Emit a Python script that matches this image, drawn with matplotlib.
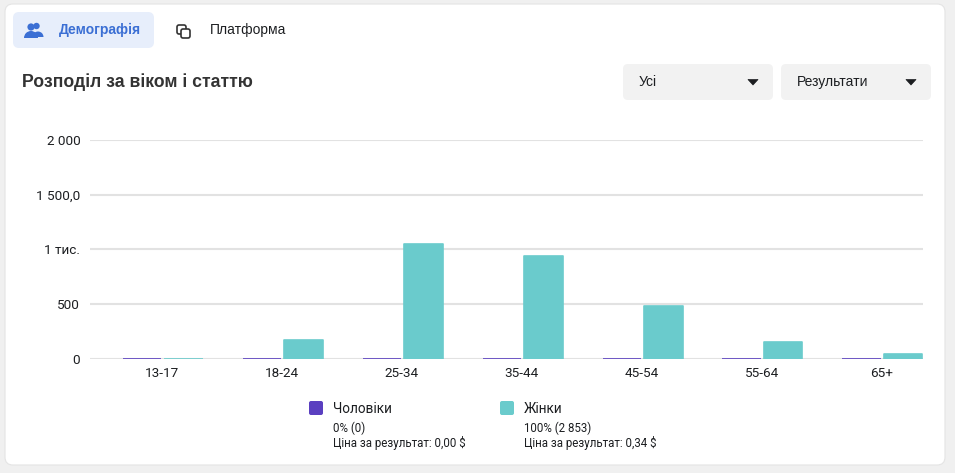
import numpy as np
import matplotlib.pyplot as plt
from matplotlib.patches import FancyBboxPatch, Circle, Wedge, Polygon

plt.rcParams['font.family'] = ['Roboto', 'DejaVu Sans']

# data
ages = ['13-17', '18-24', '25-34', '35-44', '45-54', '55-64', '65+']
men = [0, 0, 0, 0, 0, 0, 0]
women = [2, 170, 1048, 940, 488, 155, 50]
yticks = [0, 500, 1000, 1500, 2000]
ytick_labels = ['0', '500', '1 тис.', '1 500,0', '2 000']

purple = '#5a3fc0'
teal = '#6acbcc'

W, H = 955, 473
fig = plt.figure(figsize=(W / 100, H / 100), dpi=100)
fig.patch.set_facecolor('#f0f0f0')

# overlay in pixel coords
bg = fig.add_axes([0, 0, 1, 1])
bg.set_xlim(0, W)
bg.set_ylim(H, 0)
bg.axis('off')

bg.add_patch(FancyBboxPatch((5, 4), 940, 461, boxstyle='round,pad=0,rounding_size=8',
                            fc='white', ec='#e4e4e4', lw=0.8))

# tabs
bg.add_patch(FancyBboxPatch((13, 12), 141, 36, boxstyle='round,pad=0,rounding_size=6',
                            fc='#e7eefb', ec='none'))
# people icon
bg.add_patch(Circle((36.5, 26), 3.2, fc='#3b6fd4', ec='none'))
bg.add_patch(Circle((31, 27), 3.6, fc='#3b6fd4', ec='none'))
bg.add_patch(Wedge((31, 38), 7, 180, 360, fc='#3b6fd4', ec='none'))
bg.add_patch(Wedge((38, 37), 5.5, 180, 360, fc='#3b6fd4', ec='none'))
bg.text(59, 30, 'Демографія', fontsize=10, fontweight='bold', color='#3b6fd4',
        va='center', ha='left', family=['Liberation Sans', 'DejaVu Sans'])
# platform icon
bg.add_patch(FancyBboxPatch((177, 25), 9, 9, boxstyle='round,pad=0,rounding_size=2',
                            fc='none', ec='#333333', lw=1.2))
bg.add_patch(FancyBboxPatch((181, 29), 9, 9, boxstyle='round,pad=0,rounding_size=2',
                            fc='white', ec='#333333', lw=1.2))
bg.text(210, 30, 'Платформа', fontsize=10, color='#1c1e21',
        va='center', ha='left', family=['Liberation Sans', 'DejaVu Sans'])

bg.text(22, 82, 'Розподіл за віком і статтю', fontsize=12.7, fontweight='bold', color='#333333',
        va='center', ha='left', family=['Liberation Sans', 'DejaVu Sans'])

# dropdowns
for x0, label in [(623, 'Усі'), (781, 'Результати')]:
    bg.add_patch(FancyBboxPatch((x0, 64), 150, 36, boxstyle='round,pad=0,rounding_size=5',
                                fc='#f2f2f2', ec='none'))
    bg.text(x0 + 16, 82, label, fontsize=10, color='#1c1e21', va='center', ha='left',
            family=['Liberation Sans', 'DejaVu Sans'])
    tx = x0 + 130
    bg.add_patch(Polygon([(tx - 5, 79.5), (tx + 5, 79.5), (tx, 85)], closed=True,
                         fc='#1c1e21', ec='#1c1e21', lw=0.5, joinstyle='round'))

# legend
for x0, col, name, pct, cost in [(309, purple, 'Чоловіки', '0% (0)', 'Ціна за результат: 0,00 $'),
                                 (500, teal, 'Жінки', '100% (2 853)', 'Ціна за результат: 0,34 $')]:
    bg.add_patch(FancyBboxPatch((x0, 401), 14, 14, boxstyle='round,pad=0,rounding_size=2',
                                fc=col, ec='none'))
    bg.text(x0 + 24, 409, name, fontsize=9.8, color='#1c1e21', va='center', ha='left')
    bg.text(x0 + 24, 428, pct, fontsize=8.3, color='#1c1e21', va='center', ha='left')
    bg.text(x0 + 24, 443, cost, fontsize=8.3, color='#1c1e21', va='center', ha='left')

# main chart
ax = fig.add_axes([90 / W, (H - 359) / H, 833 / W, 219 / H])
ax.patch.set_alpha(0)
x = np.arange(len(ages))
ax.bar(x - 0.167, men, width=0.32, color=purple, edgecolor=purple, lw=1.2, zorder=3)
ax.bar(x + 0.18, women, width=0.32, color=teal, edgecolor=teal, lw=1.2,
       joinstyle='round', zorder=3)

ax.set_xlim(-0.6, 6.345)
ax.set_ylim(0, 2000)
ax.set_yticks(yticks)
ax.set_yticklabels(ytick_labels)
ax.set_xticks(x)
ax.set_xticklabels(ages)
ax.grid(axis='y', color='#e2e2e2', lw=1.5, zorder=0)
ax.set_axisbelow(True)
for s in ax.spines.values():
    s.set_visible(False)
ax.tick_params(length=0, labelsize=9.7, colors='#1c1e21')
ax.tick_params(axis='y', pad=7)
ax.tick_params(axis='x', pad=6)

fig.savefig('out.png', dpi=100, facecolor=fig.get_facecolor())
